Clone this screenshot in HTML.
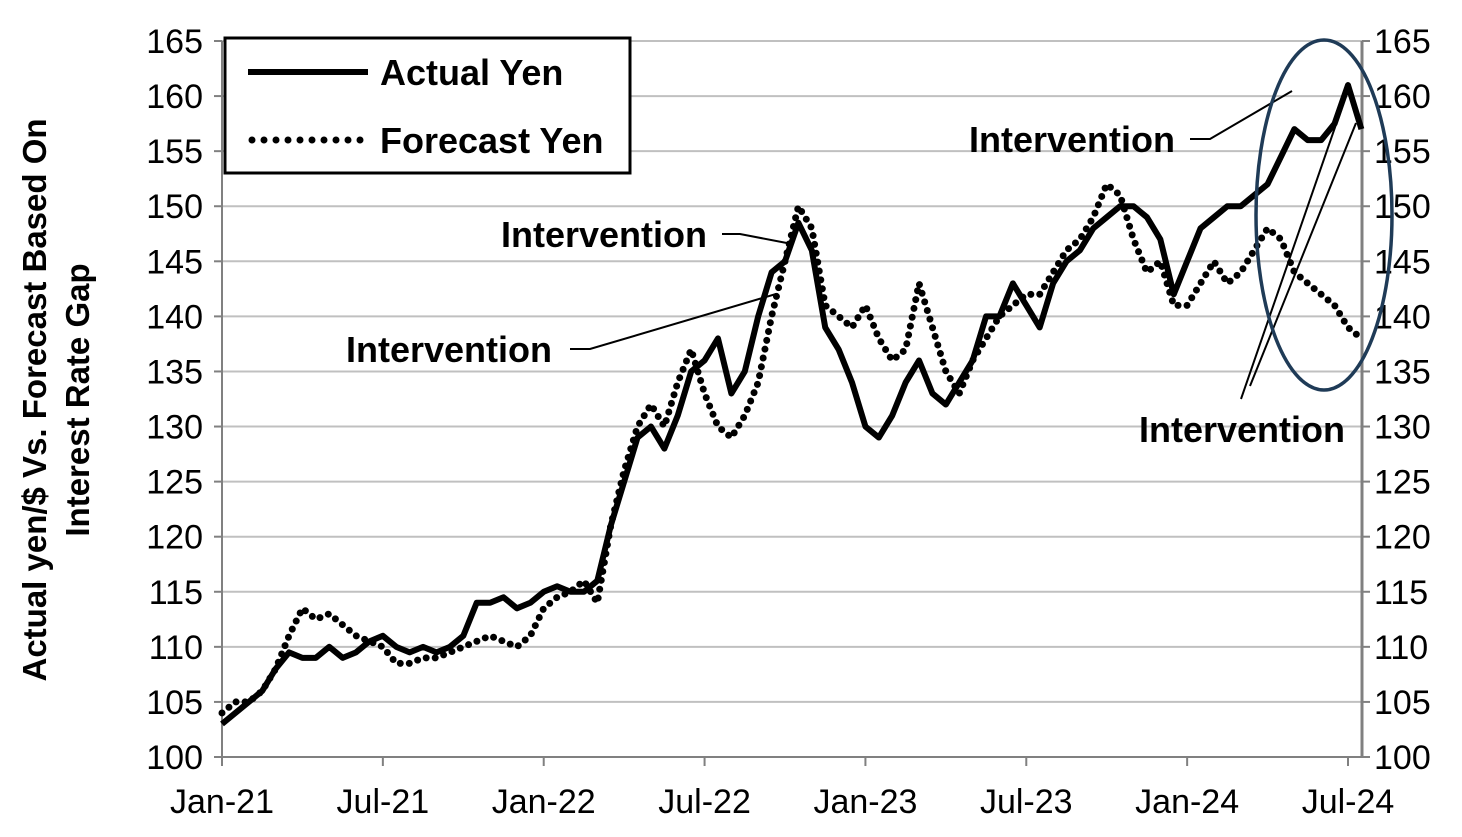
<!DOCTYPE html>
<html><head><meta charset="utf-8"><style>
body{margin:0;background:#fff;}
svg{display:block;font-family:"Liberation Sans",Arial,sans-serif;}
</style></head><body>
<svg id="chart" width="1462" height="837" viewBox="0 0 1462 837">
<g id="grid"></g>
<g id="yl"></g>
<g id="yr"></g>
<g id="xa"></g>
<g id="series"></g>
<text transform="translate(46,400) rotate(-90)" text-anchor="middle" font-size="33" font-weight="bold">Actual yen/$ Vs. Forecast Based On</text>
<text transform="translate(89,400) rotate(-90)" text-anchor="middle" font-size="33" font-weight="bold">Interest Rate Gap</text>
<g>
<rect x="225" y="38" width="405" height="135" fill="#fff" stroke="#000" stroke-width="3"/>
<line x1="248" y1="72" x2="368" y2="72" stroke="#000" stroke-width="6"/>
<text x="380" y="85" font-size="36" font-weight="bold">Actual Yen</text>
<line x1="252" y1="140" x2="368" y2="140" stroke="#000" stroke-width="7" stroke-linecap="round" stroke-dasharray="0 12"/>
<text x="380" y="153" font-size="36" font-weight="bold">Forecast Yen</text>
</g>
<g font-size="36" font-weight="bold" fill="#000">
<text x="707" y="247" text-anchor="end">Intervention</text>
<polyline points="722,234 740,234 792,244" fill="none" stroke="#000" stroke-width="2"/>
<text x="552" y="362" text-anchor="end">Intervention</text>
<polyline points="570,349 590,349 776,294" fill="none" stroke="#000" stroke-width="2"/>
<text x="1175" y="152" text-anchor="end">Intervention</text>
<polyline points="1190,139 1210,139 1292,91" fill="none" stroke="#000" stroke-width="2"/>
<text x="1345" y="442" text-anchor="end">Intervention</text>
<line x1="1241" y1="399" x2="1350" y2="84" stroke="#000" stroke-width="2"/>
<line x1="1250" y1="386" x2="1356" y2="123" stroke="#000" stroke-width="2"/>
<ellipse cx="1324" cy="215" rx="68" ry="175" fill="none" stroke="#1f3b57" stroke-width="3.5"/>
</g>
</svg>
<script>
const yTicks=[100,105,110,115,120,125,130,135,140,145,150,155,160,165];
const xLabels=["Jan-21","Jul-21","Jan-22","Jul-22","Jan-23","Jul-23","Jan-24","Jul-24"];
const xLabelMonths=[0,6,12,18,24,30,36,42];
const actualYen=[103,104,105,106,108,109.5,109,109,110,109,109.5,110.5,111,110,109.5,110,109.5,110,111,114,114,114.5,113.5,114,115,115.5,115,115,116,121,125,129,130,128,131,135,136,138,133,135,140,144,145,148.5,146,139,137,134,130,129,131,134,136,133,132,134,136,140,140,143,141,139,143,145,146,148,149,150,150,149,147,142,145,148,149,150,150,151,152,154.5,157,156,156,157.5,161,157];
const forecastYen=[104,105,105,106,108,111,113.5,112.5,113,112,111,110.5,110,108.5,108.5,109,109,109.5,110,110.5,111,110.5,110,111,113.5,114.5,115,116,114,121,126,130,132,130,134,137,133,130,129,131,134,140,145,150,148,141,140,139,141,138,136,137,143,139,135,133,136,138,140,141,142,142,144,146,147,149,152,151,147,144,145,141,141,143,145,143,144,146,148,147,144,143,142,141,139,138];
const NS="http://www.w3.org/2000/svg";
const X0=222,XM=(1348-222)/42,Y0=757,YS=(757-41)/65;
const xScale=m=>X0+m*XM;
const yScale=v=>Y0-(v-100)*YS;
function mk(t,a,p){const e=document.createElementNS(NS,t);for(const k in a)e.setAttribute(k,a[k]);p.appendChild(e);return e;}
const grid=document.getElementById('grid'),yl=document.getElementById('yl'),yr=document.getElementById('yr'),xa=document.getElementById('xa'),ser=document.getElementById('series');
yTicks.forEach(v=>{const y=yScale(v);
 if(v>100){const g=mk('line',{x1:222,x2:1362,y1:y,y2:y,stroke:'#c0c0c0','stroke-width':2},grid);}
 mk('line',{x1:214,x2:222,y1:y,y2:y,stroke:'#808080','stroke-width':2},yl);
 mk('line',{x1:1362,x2:1370,y1:y,y2:y,stroke:'#808080','stroke-width':2},yr);
 const t=mk('text',{x:203,y:y+12,'text-anchor':'end','font-size':34},yl);t.textContent=v;
 
 
 const t2=mk('text',{x:1374,y:y+12,'font-size':34},yr);t2.textContent=v;
 
 
});
mk('line',{x1:222,x2:222,y1:41,y2:757,stroke:'#808080','stroke-width':2},yl);
mk('line',{x1:1362,x2:1362,y1:41,y2:757,stroke:'#808080','stroke-width':3},yr);
mk('line',{x1:222,x2:1362,y1:757,y2:757,stroke:'#808080','stroke-width':2},xa);
xLabels.forEach((l,i)=>{const x=xScale(xLabelMonths[i]);
 mk('line',{x1:x,x2:x,y1:757,y2:766,stroke:'#808080','stroke-width':2},xa);
 const t=mk('text',{x:x,y:813,'text-anchor':'middle','font-size':34},xa);t.textContent=l;
 
 
});
const fp=forecastYen.map((v,i)=>xScale(i/2)+','+yScale(v)).join(' ');
const f=mk('polyline',{points:fp,fill:'none',stroke:'#000','stroke-width':7,'stroke-linecap':'round','stroke-dasharray':'0 9'},ser);


const ap=actualYen.map((v,i)=>xScale(i/2)+','+yScale(v)).join(' ');
const a=mk('polyline',{points:ap,fill:'none',stroke:'#000','stroke-width':6,'stroke-linejoin':'round'},ser);


</script>
</body></html>
